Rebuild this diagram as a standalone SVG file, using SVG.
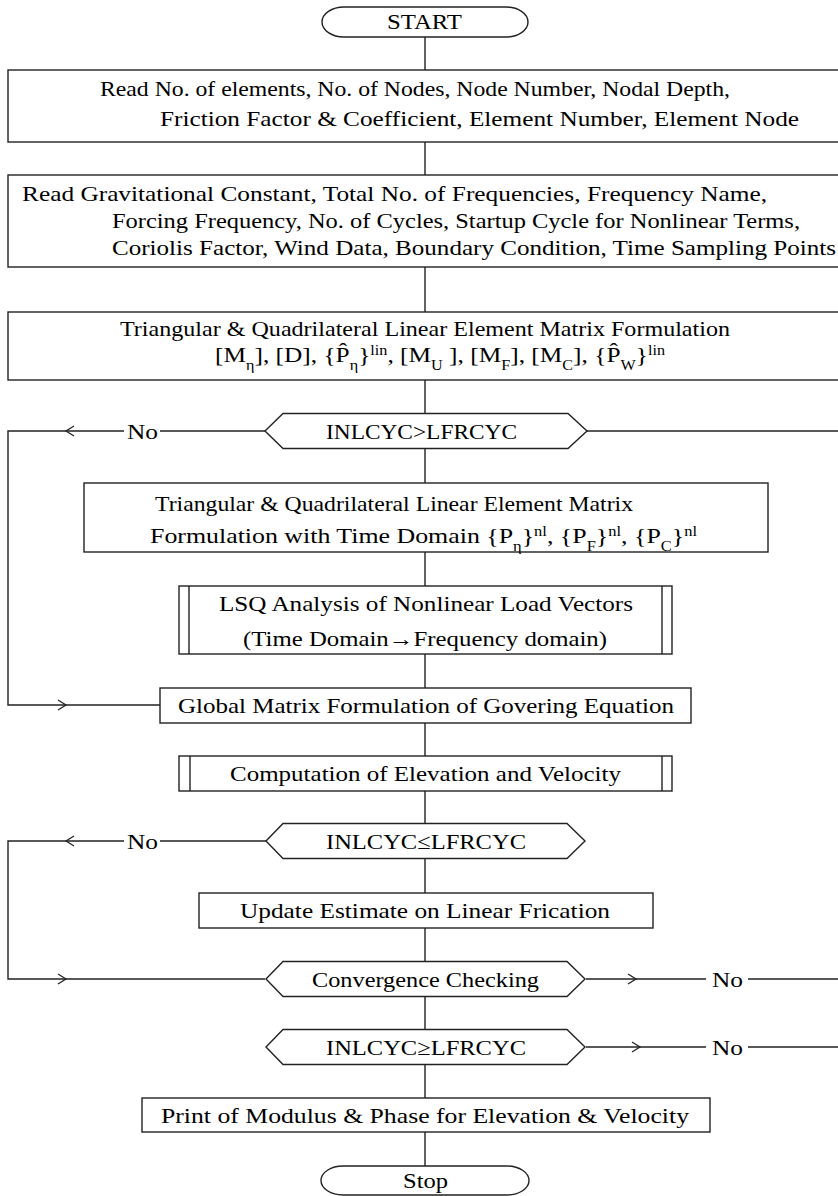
<svg xmlns="http://www.w3.org/2000/svg" width="838" height="1196" viewBox="0 0 838 1196">
<style>
.s{fill:#fff;stroke:#222;stroke-width:1.4}
.l{fill:none;stroke:#222;stroke-width:1.4}
text{font-family:"Liberation Serif","Times New Roman",serif;font-size:22px;fill:#000}
.sm{font-size:14px}
</style>
<defs>
<marker id="ar" viewBox="-10 -6 12 12" refX="0" refY="0" markerWidth="12" markerHeight="12" markerUnits="userSpaceOnUse" orient="auto">
<path d="M-8,-5 L0,0 L-8,5" fill="none" stroke="#222" stroke-width="1.3"/>
</marker>
</defs>
<g id="connectors">
<path class="l" d="M425,37V70M425,142V175M425,267V312M425,380V413M425,448V483M425,552V586M425,654V688M425,723V756M425,791V824M425,859V893M425,928V962M425,997V1030M425,1064V1098M425,1132V1166"/>
<path class="l" d="M265,431H160M124,431H66" marker-end="url(#ar)"/>
<path class="l" d="M66,431H8V705H66" marker-end="url(#ar)"/>
<path class="l" d="M66,705H160"/>
<path class="l" d="M586,431H838"/>
<path class="l" d="M266,841H160M124,841H66" marker-end="url(#ar)"/>
<path class="l" d="M66,841H8V979H66" marker-end="url(#ar)"/>
<path class="l" d="M66,979H265"/>
<path class="l" d="M586,979H636" marker-end="url(#ar)"/>
<path class="l" d="M636,979H706M748,979H838"/>
<path class="l" d="M586,1047H640" marker-end="url(#ar)"/>
<path class="l" d="M640,1047H706M748,1047H838"/>
<text x="127" y="439" textLength="31" lengthAdjust="spacingAndGlyphs">No</text>
<text x="127" y="849" textLength="31" lengthAdjust="spacingAndGlyphs">No</text>
<text x="712" y="987" textLength="31" lengthAdjust="spacingAndGlyphs">No</text>
<text x="712" y="1055" textLength="31" lengthAdjust="spacingAndGlyphs">No</text>
</g>
<g id="start">
<rect class="s" x="322" y="7" width="206" height="30" rx="22" ry="15"/>
<text x="387" y="29" textLength="75" lengthAdjust="spacingAndGlyphs">START</text>
</g>
<g id="read1">
<rect class="s" x="8" y="70" width="832" height="72"/>
<text x="100" y="96" textLength="630" lengthAdjust="spacingAndGlyphs">Read No. of elements, No. of Nodes, Node Number, Nodal Depth,</text>
<text x="160" y="126" textLength="639" lengthAdjust="spacingAndGlyphs">Friction Factor &amp; Coefficient, Element Number, Element Node</text>
</g>
<g id="read2">
<rect class="s" x="8" y="175" width="832" height="92"/>
<text x="22" y="201" textLength="745" lengthAdjust="spacingAndGlyphs">Read Gravitational Constant, Total No. of Frequencies, Frequency Name,</text>
<text x="112" y="228" textLength="688" lengthAdjust="spacingAndGlyphs">Forcing Frequency, No. of Cycles, Startup Cycle for Nonlinear Terms,</text>
<text x="112" y="255" textLength="724" lengthAdjust="spacingAndGlyphs">Coriolis Factor, Wind Data, Boundary Condition, Time Sampling Points</text>
</g>
<g id="linear">
<rect class="s" x="8" y="312" width="832" height="68"/>
<text x="120" y="336" textLength="610" lengthAdjust="spacingAndGlyphs">Triangular &amp; Quadrilateral Linear Element Matrix Formulation</text>
<text x="215" y="362" textLength="450" lengthAdjust="spacingAndGlyphs">[M<tspan class="sm" baseline-shift="sub">η</tspan>], [D], {P̂<tspan class="sm" baseline-shift="sub">η</tspan>}<tspan class="sm" baseline-shift="super">lin</tspan>, [M<tspan class="sm" baseline-shift="sub">U</tspan> ], [M<tspan class="sm" baseline-shift="sub">F</tspan>], [M<tspan class="sm" baseline-shift="sub">C</tspan>], {P̂<tspan class="sm" baseline-shift="sub">W</tspan>}<tspan class="sm" baseline-shift="super">lin</tspan></text>
</g>
<g id="dec1">
<polygon class="s" points="265,431 283,413.5 568,413.5 587,431 568,448.5 283,448.5"/>
<text x="326" y="439" textLength="191" lengthAdjust="spacingAndGlyphs">INLCYC&gt;LFRCYC</text>
</g>
<g id="nonlinear">
<rect class="s" x="84" y="483" width="684" height="69"/>
<text x="155" y="511" textLength="478" lengthAdjust="spacingAndGlyphs">Triangular &amp; Quadrilateral Linear Element Matrix</text>
<text x="150" y="543" textLength="547" lengthAdjust="spacingAndGlyphs">Formulation with Time Domain {P<tspan class="sm" baseline-shift="sub">η</tspan>}<tspan class="sm" baseline-shift="super">nl</tspan>, {P<tspan class="sm" baseline-shift="sub">F</tspan>}<tspan class="sm" baseline-shift="super">nl</tspan>, {P<tspan class="sm" baseline-shift="sub">C</tspan>}<tspan class="sm" baseline-shift="super">nl</tspan></text>
</g>
<g id="lsq">
<rect class="s" x="179" y="586" width="493" height="68"/>
<path class="l" d="M189,586V654M662,586V654"/>
<text x="219" y="611" textLength="414" lengthAdjust="spacingAndGlyphs">LSQ Analysis of Nonlinear Load Vectors</text>
<text x="243" y="646" textLength="364" lengthAdjust="spacingAndGlyphs">(Time Domain→Frequency domain)</text>
</g>
<g id="global">
<rect class="s" x="160" y="688" width="531" height="35"/>
<text x="178" y="713" textLength="496" lengthAdjust="spacingAndGlyphs">Global Matrix Formulation of Govering Equation</text>
</g>
<g id="compute">
<rect class="s" x="179" y="756" width="493" height="35"/>
<path class="l" d="M190,756V791M662,756V791"/>
<text x="230" y="781" textLength="391" lengthAdjust="spacingAndGlyphs">Computation of Elevation and Velocity</text>
</g>
<g id="dec2">
<polygon class="s" points="266,841 283,823.5 567,823.5 585,841 567,858.5 283,858.5"/>
<text x="326" y="849" textLength="200" lengthAdjust="spacingAndGlyphs">INLCYC≤LFRCYC</text>
</g>
<g id="update">
<rect class="s" x="199" y="893" width="454" height="35"/>
<text x="240" y="918" textLength="370" lengthAdjust="spacingAndGlyphs">Update Estimate on Linear Frication</text>
</g>
<g id="converge">
<polygon class="s" points="266,979 283,961.5 567,961.5 585,979 567,996.5 283,996.5"/>
<text x="312" y="987" textLength="227" lengthAdjust="spacingAndGlyphs">Convergence Checking</text>
</g>
<g id="dec3">
<polygon class="s" points="266,1047 283,1029.5 567,1029.5 585,1047 567,1064.5 283,1064.5"/>
<text x="326" y="1055" textLength="200" lengthAdjust="spacingAndGlyphs">INLCYC≥LFRCYC</text>
</g>
<g id="print">
<rect class="s" x="142" y="1098" width="568" height="34"/>
<text x="161" y="1123" textLength="528" lengthAdjust="spacingAndGlyphs">Print of Modulus &amp; Phase for Elevation &amp; Velocity</text>
</g>
<g id="stop">
<rect class="s" x="321" y="1166" width="208" height="29" rx="22" ry="14.5"/>
<text x="403" y="1188" textLength="45" lengthAdjust="spacingAndGlyphs">Stop</text>
</g>
</svg>
